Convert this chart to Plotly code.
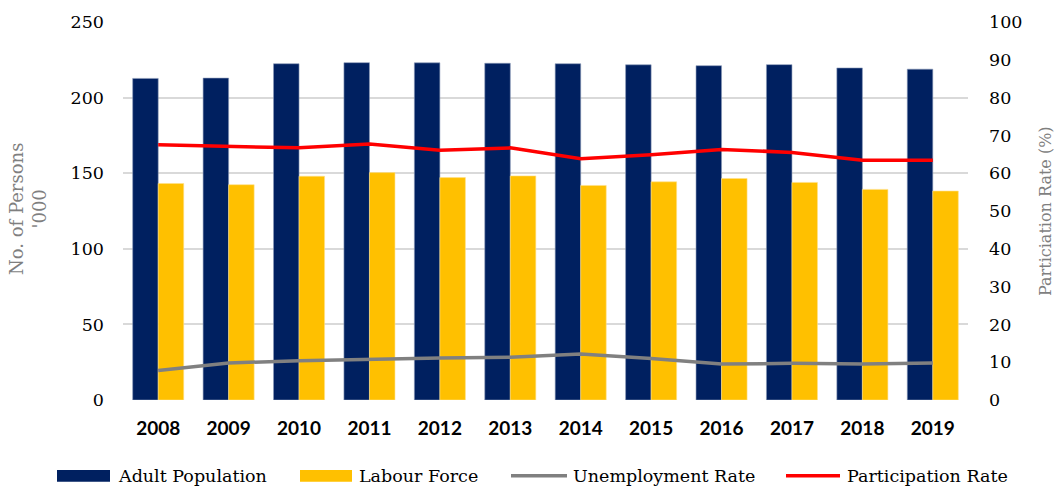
import plotly.graph_objects as go

years = ["2008", "2009", "2010", "2011", "2012", "2013", "2014", "2015", "2016", "2017", "2018", "2019"]
adult_population = [212.7, 212.9, 222.4, 223.1, 223.0, 222.7, 222.4, 221.7, 221.1, 221.8, 219.6, 218.8]
labour_force = [143.2, 142.4, 148.0, 150.4, 147.1, 148.2, 141.9, 144.3, 146.5, 143.9, 139.3, 138.2]
unemployment_rate = [7.8, 9.8, 10.4, 10.8, 11.1, 11.3, 12.2, 11.0, 9.5, 9.7, 9.5, 9.8]
participation_rate = [67.5, 67.1, 66.7, 67.7, 66.1, 66.7, 63.8, 64.9, 66.3, 65.5, 63.4, 63.4]

NAVY = "#002060"
GOLD = "#FFC000"
GREY = "#808080"
RED = "#FF0000"
SERIF = "DejaVu Serif"

W, H = 1057, 492
L, R, T, B = 123, 89, 16, 92
PW, PH = W - L - R, H - T - B


def px_x(px):
    return (px - L) / PW


def px_y(py):
    return (H - B - py) / PH


fig = go.Figure()
fig.add_trace(go.Bar(x=years, y=adult_population, name="Adult Population",
                     marker=dict(color=NAVY, line=dict(color="#8c9bb8", width=0.6)),
                     showlegend=False))
fig.add_trace(go.Bar(x=years, y=labour_force, name="Labour Force",
                     marker=dict(color=GOLD, line=dict(color="#ffe08a", width=0.6)),
                     showlegend=False))
fig.add_trace(go.Scatter(x=years, y=unemployment_rate, name="Unemployment Rate", yaxis="y2",
                         mode="lines", line=dict(color=GREY, width=3.5), showlegend=False))
fig.add_trace(go.Scatter(x=years, y=participation_rate, name="Participation Rate", yaxis="y2",
                         mode="lines", line=dict(color=RED, width=3.5), showlegend=False))

# custom legend (wide swatches as in the reference)
legend_items = [
    ("Adult Population", "rect", NAVY, 57, 110, 116),
    ("Labour Force", "rect", GOLD, 300, 352, 357),
    ("Unemployment Rate", "line", GREY, 511, 567, 571),
    ("Participation Rate", "line", RED, 786, 840, 845),
]
ly = 477
shapes = []
annotations = []
for label, kind, color, sx0, sx1, tx in legend_items:
    if kind == "rect":
        shapes.append(dict(type="rect", xref="paper", yref="paper",
                           x0=px_x(sx0), x1=px_x(sx1), y0=px_y(ly + 6), y1=px_y(ly - 6),
                           fillcolor=color, line=dict(width=0)))
    else:
        shapes.append(dict(type="line", xref="paper", yref="paper",
                           x0=px_x(sx0), x1=px_x(sx1), y0=px_y(ly), y1=px_y(ly),
                           line=dict(color=color, width=3.5)))
    annotations.append(dict(text=label, xref="paper", yref="paper", x=px_x(tx), y=px_y(ly),
                            xanchor="left", yanchor="middle", showarrow=False,
                            font=dict(family=SERIF, size=17.5, color="#000000")))

annotations.append(dict(text="No. of Persons<br>'000", xref="paper", yref="paper",
                        x=px_x(28), y=px_y(206), xanchor="center", yanchor="middle",
                        textangle=-90, showarrow=False,
                        font=dict(family=SERIF, size=18, color="#7f7f7f")))
annotations.append(dict(text="Particiation Rate (%)", xref="paper", yref="paper",
                        x=px_x(1045), y=px_y(208), xanchor="center", yanchor="middle",
                        textangle=-90, showarrow=False,
                        font=dict(family=SERIF, size=16, color="#7f7f7f")))

fig.update_layout(
    width=W, height=H,
    margin=dict(l=L, r=R, t=T, b=B, pad=0),
    paper_bgcolor="white", plot_bgcolor="white",
    barmode="group", bargap=0.275, bargroupgap=0,
    showlegend=False,
    shapes=shapes, annotations=annotations,
    xaxis=dict(type="category", showgrid=False, showline=False, zeroline=False,
               ticks="", ticklabelstandoff=15,
               tickfont=dict(family="Lato", size=19, color="#000000", weight="bold")),
    yaxis=dict(range=[0, 250], dtick=50, showgrid=True, gridcolor="#d9d9d9", gridwidth=1.5,
               zeroline=False, showline=False, ticks="", ticklabelstandoff=18,
               tickfont=dict(family=SERIF, size=17.5, color="#000000")),
    yaxis2=dict(range=[0, 100], dtick=10, overlaying="y", side="right", showgrid=False,
                zeroline=False, showline=False, ticks="", ticklabelstandoff=20,
                tickfont=dict(family=SERIF, size=17.5, color="#000000")),
)

fig.write_html("out.html", config={"displayModeBar": False},
               post_script="document.body.style.margin='0';")
